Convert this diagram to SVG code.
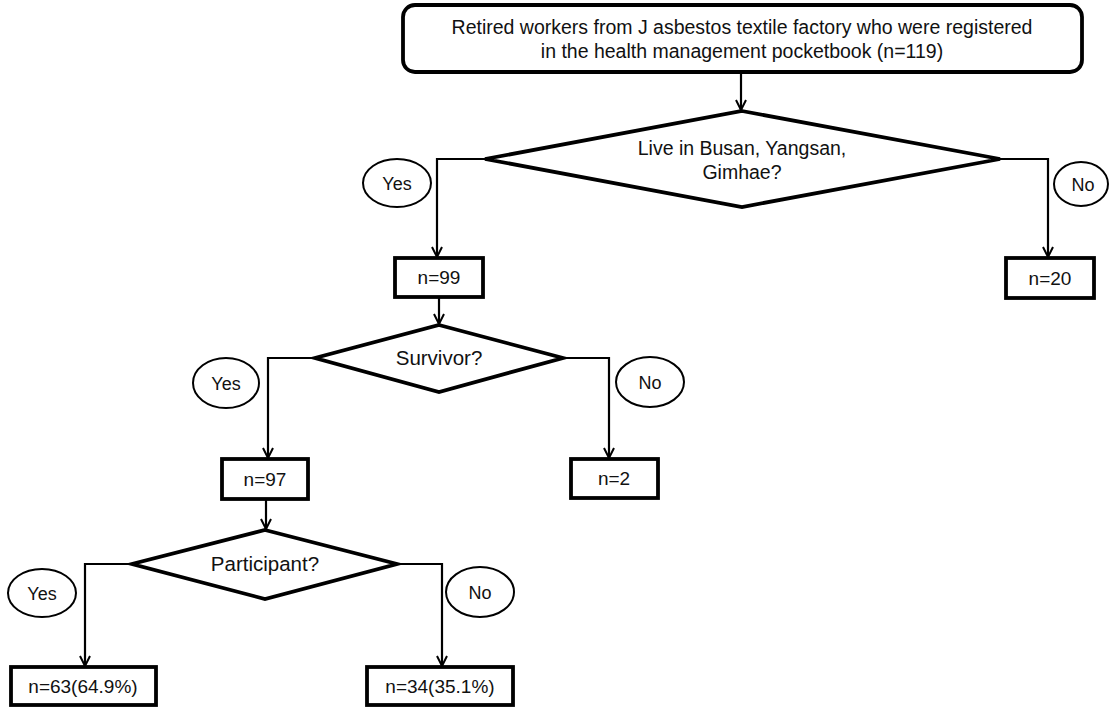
<svg xmlns="http://www.w3.org/2000/svg" width="1120" height="708" viewBox="0 0 1120 708">
<defs>
<marker id="arr" viewBox="0 0 12 12" refX="11" refY="6" markerWidth="12" markerHeight="12" markerUnits="userSpaceOnUse" orient="auto">
<path d="M1,1 L11,6 L1,11" fill="none" stroke="#000" stroke-width="2"/>
</marker>
<style>
.box{fill:#fff;stroke:#000;stroke-width:3.8}
.dia{fill:#fff;stroke:#000;stroke-width:3.8;stroke-linejoin:miter}
.ell{fill:#fff;stroke:#000;stroke-width:2}
.con{fill:none;stroke:#000;stroke-width:2.2;marker-end:url(#arr)}
text{font-family:"Liberation Sans",Arial,sans-serif;fill:#111;text-anchor:middle}
.t{font-size:19.5px}
.d{font-size:20.5px}
.b{font-size:19px}
.l{font-size:18px}
</style>
</defs>
<rect width="1120" height="708" fill="#fff"/>
<g id="connectors">
<path class="con" d="M741,72 L741,110"/>
<path class="con" d="M485,159 L437,159 L437,257"/>
<path class="con" d="M1000,159 L1048,159 L1048,257"/>
<path class="con" d="M439,297 L439,324"/>
<path class="con" d="M315,358 L268,358 L268,458"/>
<path class="con" d="M563,358 L609,358 L609,458"/>
<path class="con" d="M266,499 L266,529"/>
<path class="con" d="M132,564 L85,564 L85,666"/>
<path class="con" d="M397,564 L442,564 L442,666"/>
</g>
<g id="start">
<rect class="box" x="403" y="5" width="679" height="67" rx="12"/>
<text class="t" x="742" y="34">Retired workers from J asbestos textile factory who were registered</text>
<text class="t" x="742" y="58">in the health management pocketbook (n=119)</text>
</g>
<g id="q-region">
<polygon class="dia" points="742,111 1000,159 742,207 485,159"/>
<text class="t" x="742" y="155">Live in Busan, Yangsan,</text>
<text class="t" x="742" y="179">Gimhae?</text>
</g>
<g id="yes1"><ellipse class="ell" cx="397" cy="183" rx="34" ry="24"/><text class="l" x="397" y="190">Yes</text></g>
<g id="no1"><ellipse class="ell" cx="1081" cy="184" rx="27" ry="22"/><text class="l" x="1083" y="191">No</text></g>
<g id="n99"><rect class="box" x="395" y="258" width="88" height="39"/><text class="b" x="439" y="284">n=99</text></g>
<g id="n20"><rect class="box" x="1006" y="258" width="88" height="40"/><text class="b" x="1050" y="285">n=20</text></g>
<g id="q-survivor">
<polygon class="dia" points="439,325 563,358 439,392 315,358"/>
<text class="d" x="439" y="365">Survivor?</text>
</g>
<g id="yes2"><ellipse class="ell" cx="226" cy="383" rx="33" ry="25"/><text class="l" x="226" y="390">Yes</text></g>
<g id="no2"><ellipse class="ell" cx="650" cy="382" rx="34" ry="25"/><text class="l" x="650" y="389">No</text></g>
<g id="n97"><rect class="box" x="222" y="459" width="86" height="40"/><text class="b" x="265" y="486">n=97</text></g>
<g id="n2"><rect class="box" x="571" y="459" width="87" height="39"/><text class="b" x="614" y="485">n=2</text></g>
<g id="q-participant">
<polygon class="dia" points="265,530 397,564 265,599 132,564"/>
<text class="d" x="265" y="571">Participant?</text>
</g>
<g id="yes3"><ellipse class="ell" cx="42" cy="593" rx="34" ry="24"/><text class="l" x="42" y="600">Yes</text></g>
<g id="no3"><ellipse class="ell" cx="480" cy="592" rx="34" ry="25"/><text class="l" x="480" y="599">No</text></g>
<g id="n63"><rect class="box" x="11" y="667" width="145" height="38"/><text class="b" x="83" y="693">n=63(64.9%)</text></g>
<g id="n34"><rect class="box" x="367" y="667" width="146" height="38"/><text class="b" x="440" y="693">n=34(35.1%)</text></g>
</svg>
